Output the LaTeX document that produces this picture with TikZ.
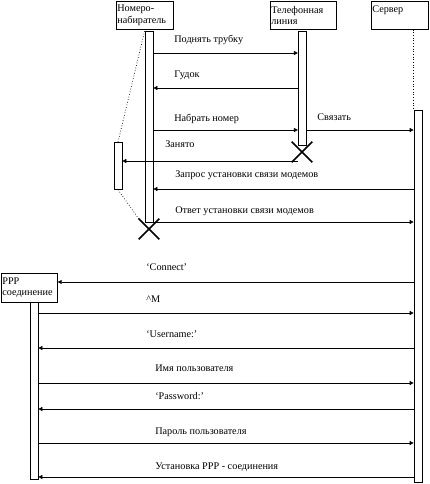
\documentclass[tikz,border=0pt]{standalone}
\usepackage{fontspec}
\setmainfont{Liberation Serif}
\usetikzlibrary{positioning,arrows.meta,shapes.misc}

\begin{document}
\begin{tikzpicture}[x=1pt,y=-1pt,line width=.7pt,
  font=\fontsize{10.2}{11.5}\selectfont,
  head/.style={draw,anchor=north west,align=left,inner sep=1pt,minimum height=28pt},
  bar/.style={draw,anchor=north,inner sep=0,minimum width=8pt},
  msg/.style={-{Triangle[length=4pt,width=4pt]}},
  lbl/.style={anchor=base west,inner sep=0},
  kill/.style={cross out,draw,line width=1.6pt,minimum size=19pt,inner sep=0}]
\useasboundingbox (0,0) rectangle (430,484);

% objects
\node[head,text width=55pt] (nabor) at (116,1) {Номеро-\\набиратель};
\node[head,text width=64pt] (liniya) at (270,1) {Телефонная\\линия};
\node[head,text width=55pt] (server) at (371,1) {Сервер\\~};
\node[head,text width=54pt,minimum height=29pt] (ppp) at (1,273) {PPP\\соединение};

% activation bars
\node[bar,minimum height=191pt] (naborbar) at (149,31) {};
\node[bar,minimum width=8.5pt,minimum height=114pt] (liniyabar) at (302.5,31) {};
\node[bar,minimum height=372pt] (serverbar) at (418,110) {};
\node[bar,minimum height=177pt] (pppbar) at (34,302) {};
\node[bar,minimum height=47pt] (zanyato) at (118,142) {};

\node[kill] (naborx) at (149,229) {};
\node[kill] (liniyax) at (302,152) {};

\draw[dotted] (naborbar.north west) -- (zanyato.north);
\draw[dotted] (zanyato.south) -- (naborx.north west);
\draw[dotted] (serverbar.north west |- server.south) -- (serverbar.north west);

% messages
\draw[msg] (naborbar.east |- 0,53) -- (liniyabar.west |- 0,53);
\node[lbl] (m1) at (174,43) {Поднять трубку};
\draw[msg] (liniyabar.west |- 0,88) -- (naborbar.east |- 0,88);
\node[lbl] (m2) at (174,78) {Гудок};
\draw[msg] (naborbar.east |- 0,130) -- (liniyabar.west |- 0,130);
\node[lbl] (m3) at (174,121.5) {Набрать номер};
\draw[msg] (liniyabar.east |- 0,130) -- (serverbar.west |- 0,130);
\node[lbl] (m4) at (317,120.5) {Связать};
\draw[msg] (liniyabar.west |- 0,161) -- (zanyato.east |- 0,161);
\node[lbl] (m5) at (165,147) {Занято};
\draw[msg] (serverbar.west |- 0,189) -- (naborbar.east |- 0,189);
\node[lbl] (m6) at (175,177.5) {Запрос установки связи модемов};
\draw[msg] (naborbar.east |- 0,222) -- (serverbar.west |- 0,222);
\node[lbl] (m7) at (175,213.5) {Ответ установки связи модемов};

\draw[msg] (serverbar.west |- 0,282) -- (ppp.east |- 0,282);
\node[lbl] (m8) at (146,270.5) {‘Connect’};
\draw[msg] (pppbar.east |- 0,313) -- (serverbar.west |- 0,313);
\node[lbl] (m9) at (146,302.5) {\^{}M};
\draw[msg] (serverbar.west |- 0,348) -- (pppbar.east |- 0,348);
\node[lbl] (m10) at (146,337.5) {‘Username:’};
\draw[msg] (pppbar.east |- 0,383) -- (serverbar.west |- 0,383);
\node[lbl] (m11) at (155,371.5) {Имя пользователя};
\draw[msg] (serverbar.west |- 0,409) -- (pppbar.east |- 0,409);
\node[lbl] (m12) at (155,399.5) {‘Password:’};
\draw[msg] (pppbar.east |- 0,443) -- (serverbar.west |- 0,443);
\node[lbl] (m13) at (155,434) {Пароль пользователя};
\draw[msg] (serverbar.west |- 0,477) -- (pppbar.east |- 0,477);
\node[lbl] (m14) at (155,469.5) {Установка PPP - соединения};

\end{tikzpicture}
\end{document}
